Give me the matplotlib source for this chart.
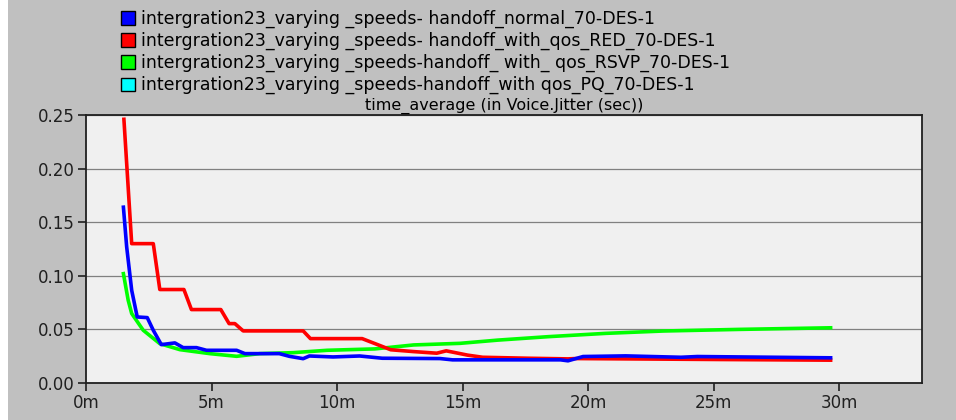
import matplotlib
matplotlib.use("Agg")
import matplotlib.pyplot as plt
from matplotlib.patches import Patch, Rectangle

plt.rcParams['font.family'] = ['DejaVu Sans']

# time in minutes, jitter in seconds
blue_x = [1.49, 1.62, 1.82, 2.04, 2.44, 2.68, 3.0, 3.54, 3.87, 4.4, 4.8, 6.0, 6.33, 7.7, 8.1,
          8.65, 8.9, 9.84, 10.9, 11.8, 14.1, 14.6, 18.9, 19.2, 19.8, 21.5, 23.7, 24.35, 28.3, 29.66]
blue_y = [0.164, 0.127, 0.0865, 0.0616, 0.061, 0.0492, 0.0358, 0.0374, 0.033, 0.033, 0.0305, 0.0305,
          0.0274, 0.0274, 0.0249, 0.0227, 0.0252, 0.0243, 0.0252, 0.0231, 0.0228, 0.0216, 0.0216,
          0.0207, 0.0247, 0.0253, 0.024, 0.0247, 0.0238, 0.0235]

red_x = [1.51, 1.82, 2.68, 2.94, 3.9, 4.2, 5.37, 5.7, 5.93, 6.26, 8.65, 8.94, 11.0, 12.14, 13.05,
         13.97, 14.35, 15.2, 15.8, 17.6, 19.2, 19.5, 21.5, 25.3, 29.66]
red_y = [0.246, 0.130, 0.130, 0.0872, 0.0872, 0.0685, 0.0685, 0.0554, 0.0554, 0.0486, 0.0486,
         0.0414, 0.0414, 0.031, 0.0293, 0.0278, 0.030, 0.026, 0.024, 0.0231, 0.0225, 0.0228,
         0.0225, 0.0219, 0.0213]

green_x = [1.49, 1.68, 1.82, 2.28, 2.94, 3.74, 4.93, 6.0, 6.92, 8.25, 9.6, 10.9, 11.5, 13.05,
           14.9, 16.4, 18.4, 20.7, 23.0, 26.0, 29.66]
green_y = [0.102, 0.0772, 0.0648, 0.0492, 0.0367, 0.0311, 0.0274, 0.0249, 0.0274, 0.0283, 0.0305,
           0.0314, 0.0318, 0.0355, 0.037, 0.040, 0.0432, 0.0463, 0.0485, 0.050, 0.0515]

labels = ['intergration23_varying _speeds- handoff_normal_70-DES-1',
          'intergration23_varying _speeds- handoff_with_qos_RED_70-DES-1',
          'intergration23_varying _speeds-handoff_ with_ qos_RSVP_70-DES-1',
          'intergration23_varying _speeds-handoff_with qos_PQ_70-DES-1']
colors = ['#0000ff', '#ff0000', '#00ff00', '#00ffff']

x_ticks = [0, 5, 10, 15, 20, 25, 30]
y_ticks = [0.0, 0.05, 0.10, 0.15, 0.20, 0.25]

fig = plt.figure(figsize=(9.56, 4.2), dpi=100, facecolor='#c0c0c0')
# white strip at the left edge of the screenshot
fig.patches.append(Rectangle((0, 0), 8/956, 1, transform=fig.transFigure,
                             facecolor='white', edgecolor='none'))
ax = fig.add_axes([86/956, 37/420, 836/956, 268/420])
ax.set_facecolor('#f0f0f0')

ax.plot(green_x, green_y, color=colors[2], lw=2.6, zorder=3)
ax.plot(red_x, red_y, color=colors[1], lw=2.6, zorder=4)
ax.plot(blue_x, blue_y, color=colors[0], lw=2.6, zorder=5)

ax.set_xlim(0, 33.3)
ax.set_ylim(0, 0.25)
ax.set_xticks(x_ticks)
ax.set_xticklabels([f'{t}m' for t in x_ticks])
ax.set_yticks(y_ticks)
ax.set_yticklabels([f'{t:.2f}' for t in y_ticks])
ax.grid(axis='y', color='#808080', lw=0.9)
ax.set_axisbelow(True)
ax.tick_params(labelsize=12, length=6, width=1.2, colors='#202020', direction='out', pad=2)
for s in ax.spines.values():
    s.set_color('#202020')
    s.set_linewidth(1.3)
ax.set_title('time_average (in Voice.Jitter (sec))', fontsize=11.5, pad=4)

handles = [Patch(facecolor=c, edgecolor='black', lw=1) for c in colors]
fig.legend(handles, labels, loc='upper left', bbox_to_anchor=(114/956, 1 - 3/420),
           frameon=False, fontsize=12.5, handlelength=0.8, handleheight=0.8,
           handletextpad=0.35, labelspacing=0.22, borderaxespad=0)

fig.savefig('out.png', dpi=100, facecolor=fig.get_facecolor())
